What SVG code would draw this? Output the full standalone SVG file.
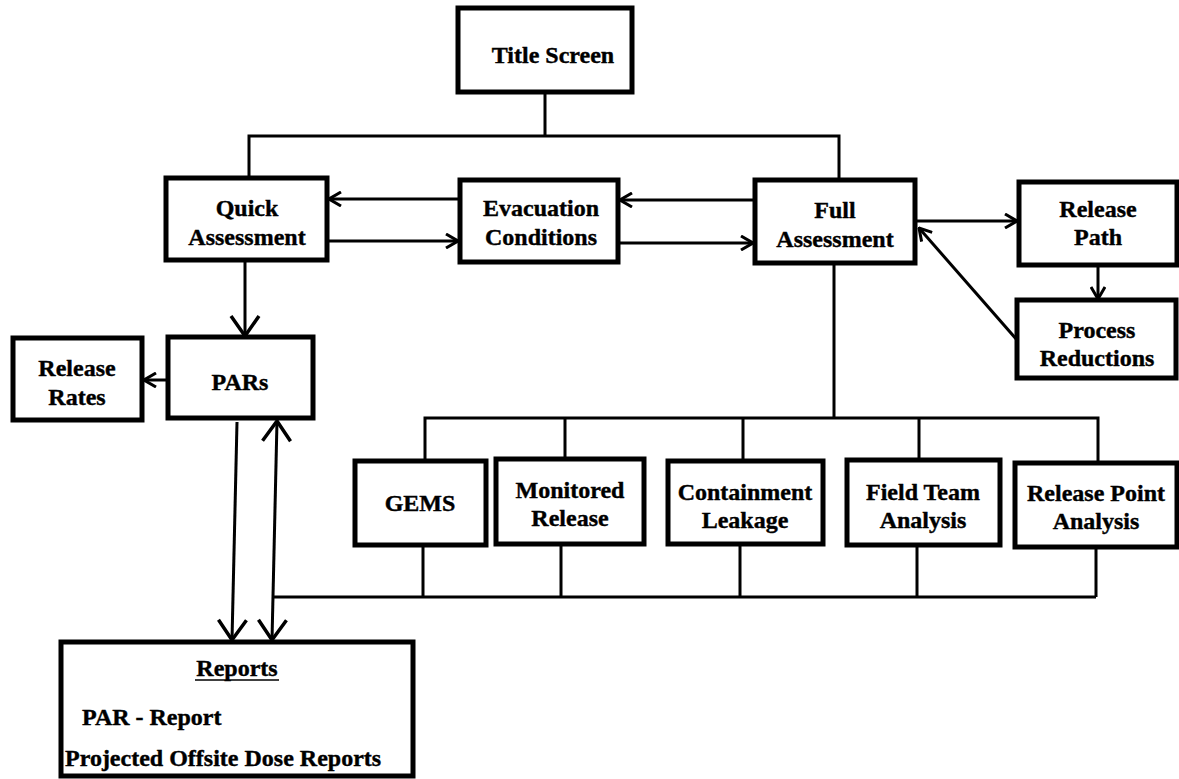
<svg xmlns="http://www.w3.org/2000/svg" width="1179" height="779" viewBox="0 0 1179 779">
<style>
.box{fill:#fff;stroke:#000;stroke-width:5}
.t{font-family:"Liberation Serif","Times New Roman",serif;font-weight:bold;font-size:24px;fill:#000;stroke:#000;stroke-width:0.4;text-anchor:middle}
.tl{font-family:"Liberation Serif","Times New Roman",serif;font-weight:bold;font-size:24px;fill:#000;stroke:#000;stroke-width:0.4}
.c{fill:none;stroke:#000;stroke-width:3}
</style>
<defs>
<marker id="arr" markerUnits="userSpaceOnUse" viewBox="0 0 14 16" markerWidth="14" markerHeight="16" refX="13" refY="8" orient="auto-start-reverse">
<path d="M1,1 L13,8 L1,15" fill="none" stroke="#000" stroke-width="3"/>
</marker>
<marker id="big" markerUnits="userSpaceOnUse" viewBox="0 0 24 32" markerWidth="24" markerHeight="32" refX="22" refY="16" orient="auto-start-reverse">
<path d="M2,2 L22,16 L2,30" fill="none" stroke="#000" stroke-width="3.5"/>
</marker>
</defs>
<g id="connectors">
<path class="c" d="M545,92 V136 M249,179 V136 H839 V180"/>
<line class="c" x1="460" y1="199" x2="329" y2="199" marker-end="url(#arr)"/>
<line class="c" x1="327" y1="241" x2="458" y2="241" marker-end="url(#arr)"/>
<line class="c" x1="755" y1="200" x2="620" y2="200" marker-end="url(#arr)"/>
<line class="c" x1="618" y1="243" x2="753" y2="243" marker-end="url(#arr)"/>
<line class="c" x1="915" y1="221" x2="1017" y2="221" marker-end="url(#arr)"/>
<line class="c" x1="1017" y1="340" x2="919" y2="228" marker-end="url(#arr)"/>
<line class="c" x1="1098" y1="265" x2="1098" y2="299" marker-end="url(#arr)"/>
<line class="c" x1="168" y1="380" x2="144" y2="380" marker-end="url(#arr)"/>
<line class="c" x1="245" y1="260" x2="245" y2="336" marker-end="url(#big)"/>
<line class="c" x1="237" y1="422" x2="232" y2="640" marker-end="url(#big)"/>
<line class="c" x1="277" y1="421" x2="272" y2="640" marker-start="url(#big)" marker-end="url(#big)"/>
<path class="c" d="M834,263 V418 M425,461 V418 H1098 V463 M565,418 V459 M743,418 V461 M919,418 V460"/>
<path class="c" d="M423,545 V597 M561,544 V597 M740,544 V597 M917,545 V597 M1096,547 V597 M273,597 H1096"/>
</g>
<g id="title"><rect class="box" x="458" y="8" width="174" height="84"/><text class="t" x="553" y="63">Title Screen</text></g>
<g id="quick"><rect class="box" x="166" y="178" width="161" height="82"/><text class="t" x="247" y="216">Quick</text><text class="t" x="247" y="245">Assessment</text></g>
<g id="evac"><rect class="box" x="460" y="180" width="158" height="82"/><text class="t" x="541" y="216">Evacuation</text><text class="t" x="541" y="245">Conditions</text></g>
<g id="full"><rect class="box" x="755" y="180" width="160" height="83"/><text class="t" x="835" y="218">Full</text><text class="t" x="835" y="247">Assessment</text></g>
<g id="relpath"><rect class="box" x="1019" y="182" width="158" height="83"/><text class="t" x="1098" y="217">Release</text><text class="t" x="1098" y="245">Path</text></g>
<g id="process"><rect class="box" x="1017" y="300" width="159" height="78"/><text class="t" x="1097" y="338">Process</text><text class="t" x="1097" y="366">Reductions</text></g>
<g id="pars"><rect class="box" x="168" y="337" width="145" height="81"/><text class="t" x="240" y="390">PARs</text></g>
<g id="rates"><rect class="box" x="13" y="338" width="129" height="82"/><text class="t" x="77" y="376">Release</text><text class="t" x="77" y="405">Rates</text></g>
<g id="gems"><rect class="box" x="355" y="461" width="131" height="84"/><text class="t" x="420" y="511">GEMS</text></g>
<g id="monitored"><rect class="box" x="496" y="459" width="148" height="85"/><text class="t" x="570" y="498">Monitored</text><text class="t" x="570" y="526">Release</text></g>
<g id="containment"><rect class="box" x="668" y="461" width="155" height="83"/><text class="t" x="745" y="500">Containment</text><text class="t" x="745" y="528">Leakage</text></g>
<g id="field"><rect class="box" x="847" y="460" width="153" height="85"/><text class="t" x="923" y="500">Field Team</text><text class="t" x="923" y="528">Analysis</text></g>
<g id="relpoint"><rect class="box" x="1015" y="463" width="162" height="84"/><text class="t" x="1096" y="501">Release Point</text><text class="t" x="1096" y="529">Analysis</text></g>
<g id="reports"><rect class="box" x="61" y="642" width="352" height="134"/>
<text class="t" x="237" y="676">Reports</text>
<line x1="195" y1="680" x2="279" y2="680" stroke="#000" stroke-width="1.5"/>
<text class="tl" x="82" y="725">PAR - Report</text>
<text class="tl" x="65" y="766">Projected Offsite Dose Reports</text></g>
</svg>
